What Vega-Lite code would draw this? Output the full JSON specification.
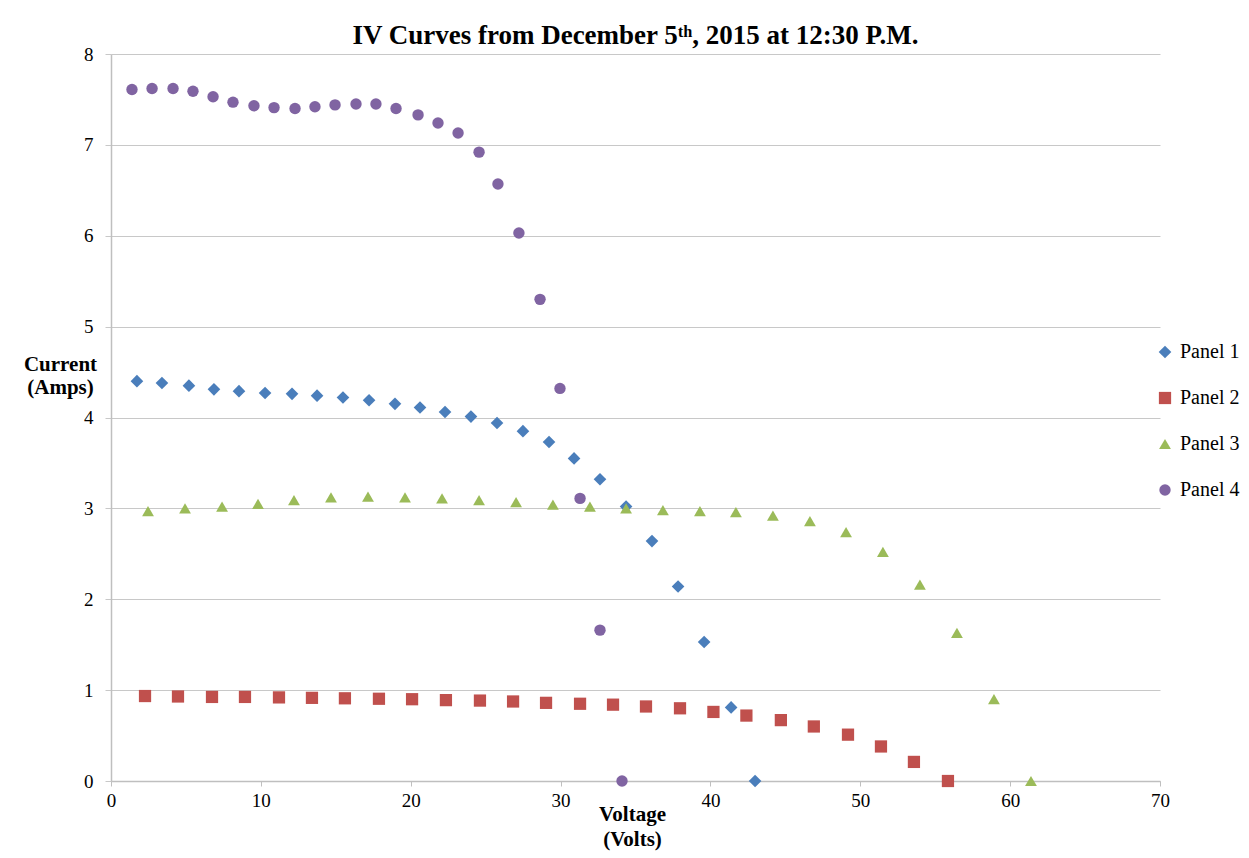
{
  "$schema": "https://vega.github.io/schema/vega-lite/v6.json",
  "autosize": "none",
  "width": 1049,
  "height": 727,
  "padding": {"left": 111, "top": 54, "right": 89, "bottom": 77},
  "background": "white",
  "config": {
    "view": {"stroke": null},
    "font": "Liberation Serif"
  },
  "title": {
    "text": "IV Curves from December 5ᵗʰ, 2015 at 12:30 P.M.",
    "font": "Liberation Serif",
    "fontSize": 27,
    "fontWeight": "bold",
    "color": "#000000",
    "anchor": "middle",
    "offset": -5
  },
  "data": {
    "values": [
      {"panel": "Panel 1", "v": 1.73, "i": 4.40},
      {"panel": "Panel 1", "v": 3.40, "i": 4.38},
      {"panel": "Panel 1", "v": 5.20, "i": 4.35},
      {"panel": "Panel 1", "v": 6.87, "i": 4.31},
      {"panel": "Panel 1", "v": 8.54, "i": 4.29},
      {"panel": "Panel 1", "v": 10.28, "i": 4.27},
      {"panel": "Panel 1", "v": 12.08, "i": 4.26},
      {"panel": "Panel 1", "v": 13.75, "i": 4.24},
      {"panel": "Panel 1", "v": 15.48, "i": 4.22},
      {"panel": "Panel 1", "v": 17.22, "i": 4.19},
      {"panel": "Panel 1", "v": 18.95, "i": 4.15},
      {"panel": "Panel 1", "v": 20.62, "i": 4.11},
      {"panel": "Panel 1", "v": 22.29, "i": 4.06},
      {"panel": "Panel 1", "v": 24.02, "i": 4.01},
      {"panel": "Panel 1", "v": 25.76, "i": 3.94},
      {"panel": "Panel 1", "v": 27.49, "i": 3.85},
      {"panel": "Panel 1", "v": 29.23, "i": 3.73},
      {"panel": "Panel 1", "v": 30.90, "i": 3.55},
      {"panel": "Panel 1", "v": 32.63, "i": 3.32},
      {"panel": "Panel 1", "v": 34.37, "i": 3.02},
      {"panel": "Panel 1", "v": 36.10, "i": 2.64},
      {"panel": "Panel 1", "v": 37.84, "i": 2.14},
      {"panel": "Panel 1", "v": 39.58, "i": 1.53},
      {"panel": "Panel 1", "v": 41.38, "i": 0.81},
      {"panel": "Panel 1", "v": 42.98, "i": 0.0},
      {"panel": "Panel 2", "v": 2.27, "i": 0.935},
      {"panel": "Panel 2", "v": 4.47, "i": 0.93},
      {"panel": "Panel 2", "v": 6.74, "i": 0.925},
      {"panel": "Panel 2", "v": 8.94, "i": 0.925},
      {"panel": "Panel 2", "v": 11.21, "i": 0.92},
      {"panel": "Panel 2", "v": 13.41, "i": 0.915},
      {"panel": "Panel 2", "v": 15.61, "i": 0.91},
      {"panel": "Panel 2", "v": 17.88, "i": 0.905},
      {"panel": "Panel 2", "v": 20.09, "i": 0.90},
      {"panel": "Panel 2", "v": 22.35, "i": 0.89},
      {"panel": "Panel 2", "v": 24.62, "i": 0.885},
      {"panel": "Panel 2", "v": 26.83, "i": 0.875},
      {"panel": "Panel 2", "v": 29.03, "i": 0.86},
      {"panel": "Panel 2", "v": 31.30, "i": 0.85},
      {"panel": "Panel 2", "v": 33.50, "i": 0.84},
      {"panel": "Panel 2", "v": 35.70, "i": 0.82},
      {"panel": "Panel 2", "v": 37.97, "i": 0.80},
      {"panel": "Panel 2", "v": 40.20, "i": 0.76},
      {"panel": "Panel 2", "v": 42.40, "i": 0.72},
      {"panel": "Panel 2", "v": 44.70, "i": 0.67},
      {"panel": "Panel 2", "v": 46.90, "i": 0.60},
      {"panel": "Panel 2", "v": 49.18, "i": 0.51},
      {"panel": "Panel 2", "v": 51.38, "i": 0.38},
      {"panel": "Panel 2", "v": 53.58, "i": 0.21},
      {"panel": "Panel 2", "v": 55.85, "i": 0.0},
      {"panel": "Panel 3", "v": 2.47, "i": 2.97},
      {"panel": "Panel 3", "v": 4.94, "i": 3.00},
      {"panel": "Panel 3", "v": 7.41, "i": 3.02},
      {"panel": "Panel 3", "v": 9.81, "i": 3.05},
      {"panel": "Panel 3", "v": 12.21, "i": 3.09},
      {"panel": "Panel 3", "v": 14.68, "i": 3.12},
      {"panel": "Panel 3", "v": 17.15, "i": 3.13},
      {"panel": "Panel 3", "v": 19.62, "i": 3.12},
      {"panel": "Panel 3", "v": 22.09, "i": 3.11},
      {"panel": "Panel 3", "v": 24.56, "i": 3.09},
      {"panel": "Panel 3", "v": 27.03, "i": 3.07},
      {"panel": "Panel 3", "v": 29.49, "i": 3.04},
      {"panel": "Panel 3", "v": 31.96, "i": 3.02},
      {"panel": "Panel 3", "v": 34.37, "i": 3.00},
      {"panel": "Panel 3", "v": 36.83, "i": 2.98},
      {"panel": "Panel 3", "v": 39.30, "i": 2.97},
      {"panel": "Panel 3", "v": 41.70, "i": 2.96},
      {"panel": "Panel 3", "v": 44.17, "i": 2.92},
      {"panel": "Panel 3", "v": 46.64, "i": 2.86},
      {"panel": "Panel 3", "v": 49.05, "i": 2.74},
      {"panel": "Panel 3", "v": 51.51, "i": 2.52},
      {"panel": "Panel 3", "v": 53.98, "i": 2.16},
      {"panel": "Panel 3", "v": 56.45, "i": 1.63},
      {"panel": "Panel 3", "v": 58.92, "i": 0.90},
      {"panel": "Panel 3", "v": 61.39, "i": 0.0},
      {"panel": "Panel 4", "v": 1.40, "i": 7.61},
      {"panel": "Panel 4", "v": 2.74, "i": 7.62},
      {"panel": "Panel 4", "v": 4.14, "i": 7.62},
      {"panel": "Panel 4", "v": 5.47, "i": 7.59},
      {"panel": "Panel 4", "v": 6.81, "i": 7.53},
      {"panel": "Panel 4", "v": 8.14, "i": 7.47},
      {"panel": "Panel 4", "v": 9.54, "i": 7.43},
      {"panel": "Panel 4", "v": 10.88, "i": 7.41},
      {"panel": "Panel 4", "v": 12.28, "i": 7.40},
      {"panel": "Panel 4", "v": 13.61, "i": 7.42},
      {"panel": "Panel 4", "v": 14.95, "i": 7.44},
      {"panel": "Panel 4", "v": 16.35, "i": 7.45},
      {"panel": "Panel 4", "v": 17.68, "i": 7.45},
      {"panel": "Panel 4", "v": 19.02, "i": 7.40},
      {"panel": "Panel 4", "v": 20.49, "i": 7.33},
      {"panel": "Panel 4", "v": 21.82, "i": 7.24},
      {"panel": "Panel 4", "v": 23.16, "i": 7.13},
      {"panel": "Panel 4", "v": 24.56, "i": 6.92},
      {"panel": "Panel 4", "v": 25.82, "i": 6.57},
      {"panel": "Panel 4", "v": 27.22, "i": 6.03},
      {"panel": "Panel 4", "v": 28.63, "i": 5.30},
      {"panel": "Panel 4", "v": 29.96, "i": 4.32},
      {"panel": "Panel 4", "v": 31.30, "i": 3.11},
      {"panel": "Panel 4", "v": 32.63, "i": 1.66},
      {"panel": "Panel 4", "v": 34.10, "i": 0.0}
    ]
  },
  "mark": {"type": "point", "filled": true, "opacity": 1},
  "encoding": {
    "x": {
      "field": "v",
      "type": "quantitative",
      "scale": {"domain": [0, 70], "nice": false, "zero": true},
      "axis": {
        "values": [0, 10, 20, 30, 40, 50, 60, 70],
        "grid": false,
        "labelFlush": false,
        "domainColor": "#bfbfbf",
        "domainWidth": 1.5,
        "tickColor": "#bfbfbf",
        "tickSize": 5,
        "labelFont": "Liberation Serif",
        "labelFontSize": 19,
        "labelColor": "#000000",
        "labelPadding": 5,
        "title": ["Voltage", "(Volts)"],
        "titleFont": "Liberation Serif",
        "titleFontSize": 21,
        "titleFontWeight": "bold",
        "titleColor": "#000000",
        "titleLineHeight": 25,
        "titleAnchor": "start",
        "titleAlign": "center",
        "titleBaseline": "alphabetic",
        "titleX": 521,
        "titleY": 39
      }
    },
    "y": {
      "field": "i",
      "type": "quantitative",
      "scale": {"domain": [0, 8], "nice": false},
      "axis": {
        "values": [0, 1, 2, 3, 4, 5, 6, 7, 8],
        "grid": true,
        "labelFlush": false,
        "gridColor": "#c8c8c8",
        "gridWidth": 1,
        "domainColor": "#bfbfbf",
        "domainWidth": 1.5,
        "tickColor": "#c8c8c8",
        "tickSize": 6,
        "labelFont": "Liberation Serif",
        "labelFontSize": 19,
        "labelColor": "#000000",
        "labelPadding": 12,
        "title": ["Current", "(Amps)"],
        "titleFont": "Liberation Serif",
        "titleFontSize": 21,
        "titleFontWeight": "bold",
        "titleColor": "#000000",
        "titleAngle": 0,
        "titleLineHeight": 23,
        "titleAlign": "center",
        "titleBaseline": "alphabetic",
        "titleAnchor": "start",
        "titleX": -51,
        "titleY": 316
      }
    },
    "color": {
      "field": "panel",
      "type": "nominal",
      "scale": {
        "domain": ["Panel 1", "Panel 2", "Panel 3", "Panel 4"],
        "range": ["#4a7ebb", "#c0504d", "#9bbb59", "#8064a2"]
      },
      "legend": {
        "title": null,
        "orient": "none",
        "legendX": 1044,
        "legendY": 288,
        "labelFont": "Liberation Serif",
        "labelFontSize": 20,
        "labelColor": "#000000",
        "symbolSize": 70,
        "rowPadding": 26,
        "labelOffset": 5
      }
    },
    "shape": {
      "field": "panel",
      "type": "nominal",
      "scale": {
        "domain": ["Panel 1", "Panel 2", "Panel 3", "Panel 4"],
        "range": ["diamond", "square", "triangle-up", "circle"]
      },
      "legend": null
    },
    "size": {
      "field": "panel",
      "type": "nominal",
      "scale": {
        "domain": ["Panel 1", "Panel 2", "Panel 3", "Panel 4"],
        "range": [160, 130, 230, 150]
      },
      "legend": null
    },
    "order": {"field": "panel"}
  }
}
